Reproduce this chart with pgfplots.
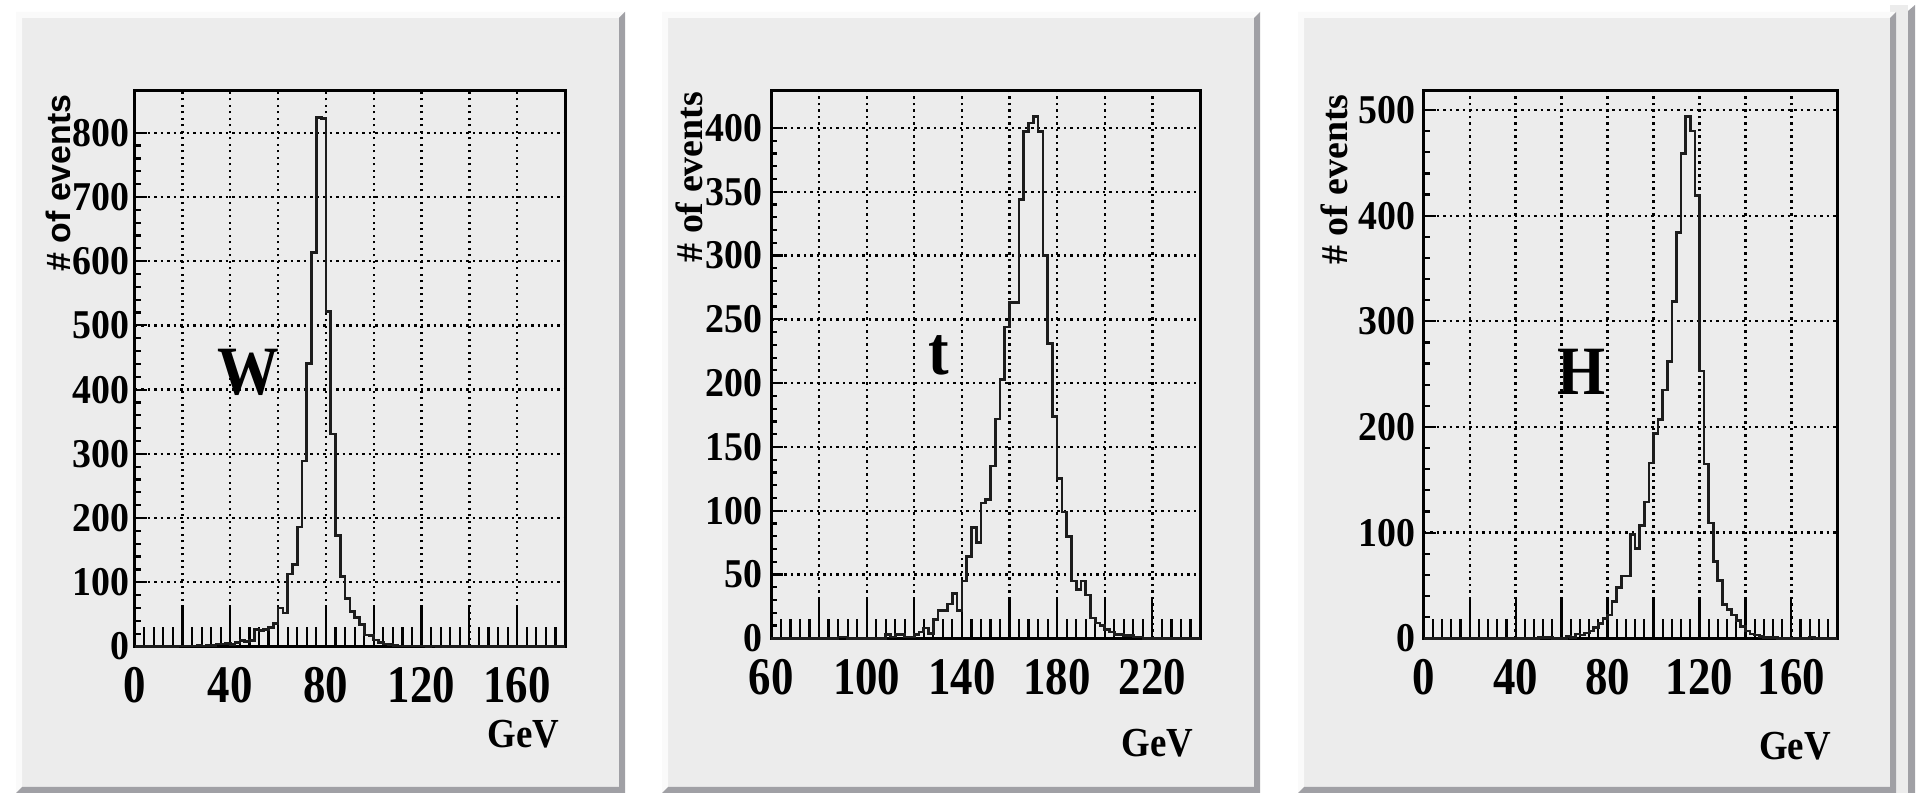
\documentclass[border=0pt]{standalone}
\usepackage{fontspec}
\setmainfont{Liberation Serif}
\newfontfamily\labelsans{Liberation Sans}
\usepackage{pgfplots}
\usepackage{pgfplotstable}
\pgfplotsset{compat=1.18}

\definecolor{padfill}{RGB}{236,236,236}
\definecolor{padlight}{RGB}{250,250,250}
\definecolor{paddark}{RGB}{160,160,165}
\definecolor{histline}{RGB}{28,28,28}

\newcommand{\ytickfont}{\fontsize{38}{38}\selectfont\bfseries}
\newcommand{\xtickfont}{\fontsize{45}{45}\selectfont\bfseries}
\newcommand{\unitfont}{\fontsize{37}{37}\selectfont\bfseries}
\newcommand{\bigfont}{\fontsize{62}{62}\selectfont\bfseries}

% invariant-mass histograms, 2 GeV bins (left bin edge, entries)
\pgfplotstableread{
x y
0 0
18 1
20 1
22 1
24 1
26 2
28 1
30 2
32 2
34 4
36 4
38 5
40 3
42 6
44 9
46 8
48 9
50 27
52 25
54 27
56 30
58 36
60 60
62 52
64 113
66 128
68 186
70 289
72 441
74 614
76 824
78 822
80 522
82 331
84 173
86 109
88 75
90 55
92 45
94 34
96 18
98 17
100 10
102 6
104 4
106 3
108 2
110 1
112 1
114 1
116 1
118 1
120 1
122 0
124 1
126 0
180 0
}\histW

\pgfplotstableread{
x y
60 0
88 1
90 1
92 0
108 3
110 1
112 3
114 3
116 1
118 1
120 3
122 5
124 8
126 4
128 15
130 22
132 22
134 27
136 35
138 22
140 45
142 64
144 87
146 75
148 106
150 109
152 135
154 172
156 203
158 244
160 263
162 263
164 344
166 397
168 404
170 409
172 397
174 300
176 231
178 174
180 125
182 99
184 80
186 45
188 38
190 45
192 34
194 16
196 12
198 10
200 7
202 5
204 3
206 3
208 2
210 2
212 1
214 1
216 0
240 0
}\histT

\pgfplotstableread{
x y
0 0
50 1
52 1
54 1
56 0
62 2
64 1
66 4
68 3
70 5
72 7
74 10
76 14
78 19
80 22
82 35
84 48
86 59
88 59
90 98
92 85
94 107
96 129
98 166
100 194
102 207
104 235
106 262
108 319
110 384
112 459
114 494
116 480
118 419
120 253
122 165
124 109
126 73
128 55
130 32
132 27
134 22
136 17
138 11
140 7
142 4
144 3
146 2
148 1
150 1
152 1
154 0
168 1
170 0
180 0
}\histH

\tikzset{
  unitlabel/.style={font=\unitfont, yscale=1.12},
  bigletter/.style={font=\bigfont, anchor=base, yscale=1.12},
}

\pgfplotsset{
  rootpad/.style={
    scale only axis,
    tick align=inside,
    tick pos=left,
    every tick/.style={black, line width=2.2bp},
    major grid style={black, line width=2.3bp, dash pattern=on 2.3bp off 4.2bp},
    /pgf/number format/assume math mode=true,
    scaled ticks=false,
    clip=false,
  },
  yside/.style={
    rootpad,
    axis line style={draw=none},
    xtick=\empty,
    ymajorgrids=true, xmajorgrids=false,
    minor y tick num=4,
    major tick length=12bp, minor tick length=6bp,
    yticklabel style={font=\ytickfont, inner sep=0pt, anchor=east, yscale=1.08},
  },
  xside/.style={
    rootpad,
    axis line style={black, line width=3bp},
    ytick=\empty,
    xmajorgrids=true, ymajorgrids=false,
    minor x tick num=4,
    major tick length=41bp, minor tick length=19bp,
    xticklabel style={font=\xtickfont, inner sep=0pt, anchor=north, yshift=-21bp, yscale=1.18},
  },
  histo/.style={const plot, line width=2.7bp, color=histline, line join=miter},
}

\newcommand{\pad}[2]{%
  \fill[padfill] (#1,0) rectangle (#2,781bp);
  \fill[padlight] (#1,0) -- (#1,781bp) -- (#2,781bp) -- ([xshift=-6bp]#2,775bp) -- ([xshift=6bp]#1,775bp) -- ([xshift=6bp]#1,6bp) -- cycle;
  \fill[paddark] (#2,781bp) -- (#2,0) -- (#1,0) -- ([xshift=6bp]#1,6bp) -- ([xshift=-6bp]#2,6bp) -- ([xshift=-6bp]#2,775bp) -- cycle;
}

\begin{document}
\begin{tikzpicture}
\useasboundingbox (0,0) rectangle (1924bp,793bp);
\fill[white] (0,0) rectangle (1924bp,793bp);
% canvas edge on the right
\fill[padfill] (1890bp,0) rectangle (1908bp,788bp);
\fill[paddark] (1908bp,0) -- (1908bp,782bp) -- (1915bp,788bp) -- (1915bp,0) -- cycle;
\pad{16bp}{625bp}
\pad{662bp}{1260bp}
\pad{1298bp}{1896bp}

% ---- W ----
\begin{axis}[yside, at={(134.7bp,146.5bp)}, anchor=south west,
  width=430.3bp, height=555.5bp, xmin=0, xmax=180, ymin=0, ymax=865,
  ytick={0,100,...,800}, yticklabel style={xshift=-5bp},
  ylabel={\labelsans\bfseries\fontsize{34}{34}\selectfont\# of events},
  every axis y label/.style={at={(axis description cs:-0.14804,1)}, anchor=base east, rotate=90}]
\end{axis}
\begin{axis}[xside, at={(134.7bp,146.5bp)}, anchor=south west,
  width=430.3bp, height=555.5bp, xmin=0, xmax=180, ymin=0, ymax=865,
  xtick={0,20,...,180}, xticklabels={0,,40,,80,,120,,160,},
  xlabel={GeV},
  every axis x label/.style={unitlabel, at={(axis description cs:0.99535,-0.182)}, anchor=base east}]
  \addplot[histo] table {\histW};
  \node[bigletter] at (axis cs:47.7,392) {W};
\end{axis}

% ---- t ----
\begin{axis}[yside, at={(771.4bp,154.7bp)}, anchor=south west,
  width=428.6bp, height=547.3bp, xmin=60, xmax=240, ymin=0, ymax=429,
  ytick={0,50,...,400}, yticklabel style={xshift=-9bp},
  ylabel={\fontsize{38}{38}\selectfont\bfseries\# of events},
  every axis y label/.style={at={(axis description cs:-0.16193,1.00457)}, anchor=base east, rotate=90}]
\end{axis}
\begin{axis}[xside, at={(771.4bp,154.7bp)}, anchor=south west,
  width=428.6bp, height=547.3bp, xmin=60, xmax=240, ymin=0, ymax=429,
  xtick={60,80,...,240}, xticklabels={60,,100,,140,,180,,220,},
  xlabel={GeV},
  every axis x label/.style={unitlabel, at={(axis description cs:0.9930,-0.21506)}, anchor=base east}]
  \addplot[histo] table {\histT};
  \node[bigletter] at (axis cs:130.2,207) {t};
\end{axis}

% ---- H ----
\begin{axis}[yside, at={(1423.7bp,154.7bp)}, anchor=south west,
  width=413.6bp, height=547.3bp, xmin=0, xmax=180, ymin=0, ymax=518,
  ytick={0,100,...,500}, yticklabel style={xshift=-8bp},
  ylabel={\fontsize{38}{38}\selectfont\bfseries\# of events},
  every axis y label/.style={at={(axis description cs:-0.18545,1)}, anchor=base east, rotate=90}]
\end{axis}
\begin{axis}[xside, at={(1423.7bp,154.7bp)}, anchor=south west,
  width=413.6bp, height=547.3bp, xmin=0, xmax=180, ymin=0, ymax=518,
  xtick={0,20,...,180}, xticklabels={0,,40,,80,,120,,160,},
  xlabel={GeV},
  every axis x label/.style={unitlabel, at={(axis description cs:0.99275,-0.22054)}, anchor=base east}]
  \addplot[histo] table {\histH};
  \node[bigletter] at (axis cs:68.8,230.7) {H};
\end{axis}
\end{tikzpicture}
\end{document}
